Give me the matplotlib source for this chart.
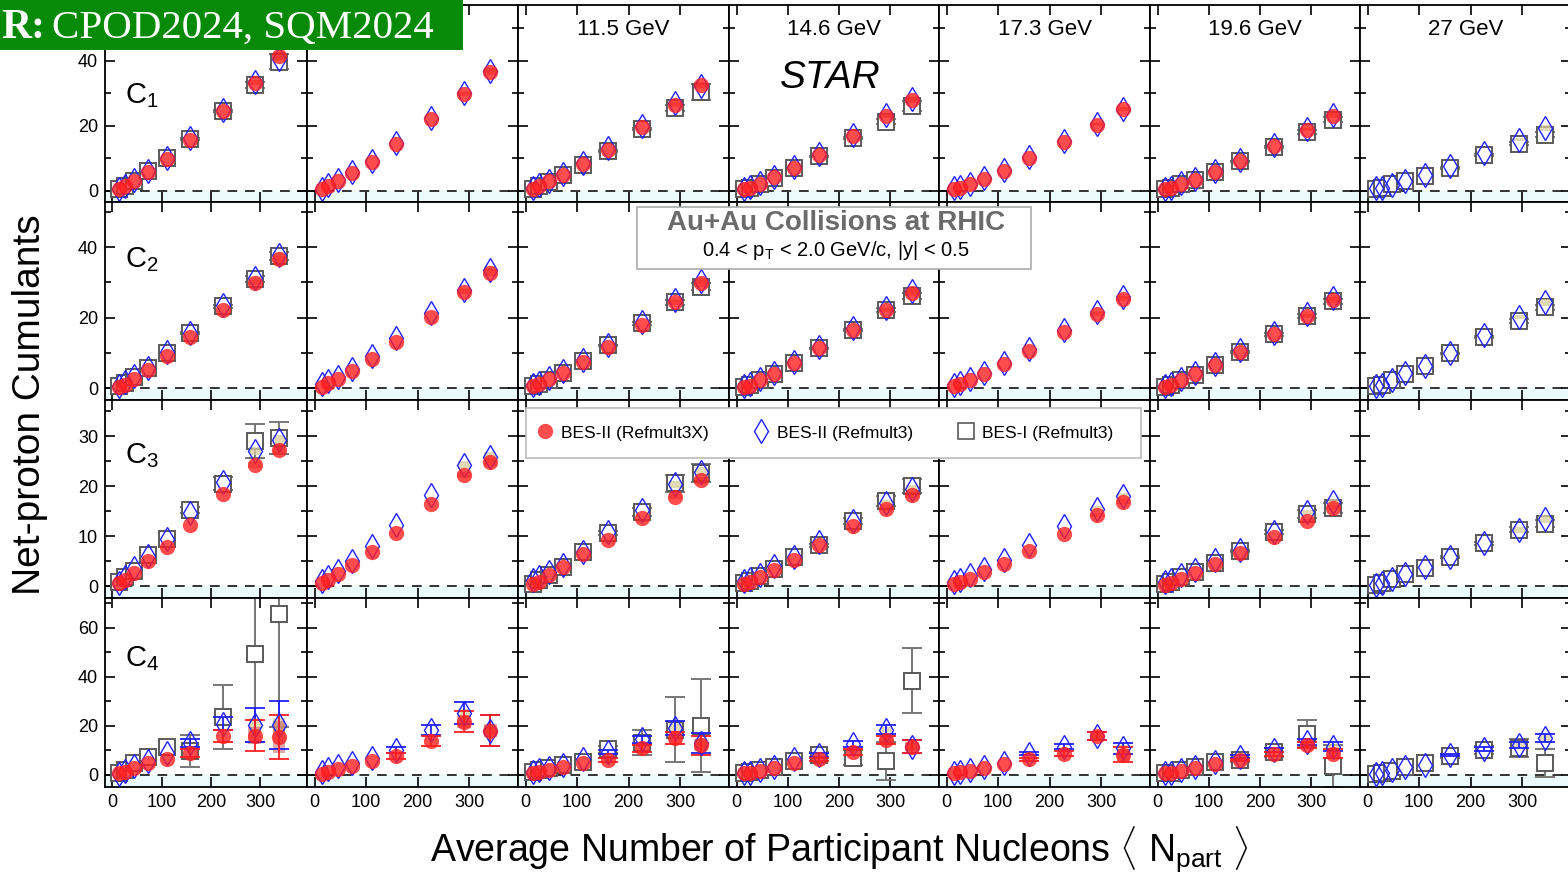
import numpy as np
import matplotlib
matplotlib.use('Agg')
import matplotlib.pyplot as plt
from matplotlib.lines import Line2D
from matplotlib.patches import Rectangle
from matplotlib.ticker import MultipleLocator

plt.rcParams['font.family'] = ['Liberation Sans', 'DejaVu Sans']
plt.rcParams['mathtext.fontset'] = 'custom'
plt.rcParams['mathtext.rm'] = 'Liberation Sans'
plt.rcParams['mathtext.it'] = 'Liberation Sans:italic'
plt.rcParams['mathtext.bf'] = 'Liberation Sans:bold'

# collision energies (columns); the first two titles sit under the banner
energies = ['7.7 GeV', '9.2 GeV', '11.5 GeV', '14.6 GeV', '17.3 GeV', '19.6 GeV', '27 GeV']

# <Npart> for 70-80% ... 0-5% centrality
npart = [
    [14, 26, 44, 72, 111, 158, 224, 289, 338],
    [14, 25, 45, 72, 111, 158, 226, 290, 341],
    [14, 26, 45, 72, 111, 159, 226, 291, 340],
    [15, 26, 45, 72, 112, 160, 227, 292, 342],
    [15, 26, 45, 72, 112, 160, 228, 292, 343],
    [15, 26, 45, 72, 112, 160, 228, 292, 343],
    [16, 27, 47, 72, 111, 160, 226, 293, 345],
]

# ---- C1 ----
c1_red = [
    [0.5, 1.3, 3.1, 5.8, 9.8, 15.7, 24.4, 33.3, 41.5],
    [0.5, 1.5, 3.1, 5.4, 8.8, 14.4, 22.1, 29.8, 36.7],
    [0.6, 1.5, 2.9, 4.9, 8.2, 12.6, 19.5, 26.5, 32.6],
    [0.4, 0.9, 2.2, 4.1, 7.0, 11.1, 16.7, 22.9, 28.0],
    [0.6, 0.9, 1.9, 3.7, 6.2, 10.1, 15.1, 20.3, 25.2],
    [0.5, 0.8, 2.2, 3.4, 5.8, 9.0, 13.8, 18.8, 23.1],
    None,
]
c1_blue = [
    [0.6, 1.4, 3.3, 6.0, 10.1, 16.1, 24.8, 33.6, 40.6],
    [0.6, 1.6, 3.2, 5.6, 9.2, 14.8, 22.4, 30.2, 37.0],
    [0.7, 1.6, 3.0, 5.1, 8.5, 13.0, 19.9, 26.9, 32.2],
    [0.5, 1.0, 2.4, 4.3, 7.3, 11.4, 17.1, 23.2, 28.3],
    [0.7, 1.0, 2.1, 3.9, 6.4, 10.4, 15.4, 20.6, 25.3],
    [0.6, 0.9, 2.3, 3.6, 6.0, 9.3, 14.0, 19.1, 23.4],
    [0.8, 0.8, 1.8, 2.9, 4.7, 7.5, 11.6, 15.7, 19.3],
]
c1_gray = [
    [0.5, 1.3, 3.1, 5.9, 10.0, 16.0, 24.5, 32.5, 39.7],
    None,
    [0.5, 1.3, 2.8, 4.9, 7.8, 12.3, 19.0, 25.5, 30.5],
    [0.4, 0.9, 2.1, 4.0, 7.0, 10.6, 16.2, 21.3, 26.0],
    None,
    [0.5, 0.8, 2.1, 3.4, 5.8, 9.0, 13.5, 18.1, 21.8],
    [0.6, 0.9, 2.0, 2.9, 4.4, 7.0, 11.1, 14.5, 17.2],
]

# ---- C2 ----
c2_red = [
    [0.3, 0.9, 2.5, 5.1, 9.1, 14.4, 22.1, 29.9, 36.5],
    [0.4, 1.5, 2.7, 4.9, 8.1, 13.1, 20.2, 27.3, 32.7],
    [0.7, 1.0, 2.5, 4.3, 7.5, 11.7, 17.9, 24.3, 29.7],
    [0.4, 0.7, 2.3, 4.0, 7.0, 11.3, 16.6, 22.1, 27.1],
    [0.6, 1.0, 2.3, 4.0, 6.7, 10.5, 16.0, 21.0, 25.4],
    [0.4, 0.9, 2.3, 4.0, 6.5, 10.3, 15.2, 20.5, 25.0],
    None,
]
c2_blue = [
    [0.6, 1.8, 3.3, 5.8, 10.1, 15.6, 23.6, 31.2, 37.7],
    [1.1, 2.0, 3.2, 5.4, 9.0, 14.2, 21.4, 27.9, 33.6],
    [0.9, 1.4, 2.9, 4.8, 8.0, 12.3, 18.6, 25.0, 30.3],
    [0.7, 1.1, 2.6, 4.4, 7.4, 11.7, 17.1, 22.6, 27.6],
    [0.9, 1.3, 2.6, 4.4, 7.1, 11.0, 16.5, 21.5, 25.9],
    [0.7, 1.2, 2.6, 4.3, 6.9, 10.7, 15.7, 21.0, 25.5],
    [0.6, 0.9, 2.3, 4.2, 6.3, 10.0, 15.0, 20.2, 24.3],
]
c2_gray = [
    [0.5, 1.3, 3.0, 5.6, 10.0, 15.6, 23.2, 31.0, 37.5],
    None,
    [0.7, 1.1, 2.4, 4.4, 7.8, 12.1, 18.4, 24.3, 28.7],
    [0.4, 0.8, 2.3, 4.0, 7.0, 11.3, 16.4, 22.1, 26.2],
    None,
    [0.4, 0.9, 2.2, 3.8, 6.5, 10.2, 15.2, 20.4, 24.6],
    [0.6, 0.9, 2.3, 4.0, 6.3, 9.8, 14.6, 19.0, 22.9],
]

# ---- C3 ----
c3_red = [
    [0.7, 1.2, 2.7, 5.0, 7.9, 12.2, 18.4, 24.2, 27.3],
    [0.7, 1.2, 2.5, 4.3, 6.9, 10.7, 16.4, 22.2, 24.9],
    [0.5, 0.9, 2.2, 3.9, 6.4, 9.2, 13.7, 17.9, 21.2],
    [0.5, 0.9, 1.9, 3.2, 5.3, 8.2, 12.0, 15.5, 18.3],
    [0.5, 0.9, 1.5, 2.9, 4.5, 7.1, 10.5, 14.2, 16.9],
    [0.3, 0.7, 1.4, 2.7, 4.4, 6.7, 9.9, 13.1, 15.7],
    None,
]
c3_blue = [
    [0.7, 1.9, 3.7, 6.0, 9.5, 14.7, 20.9, 27.0, 29.3],
    [1.0, 1.8, 3.1, 5.0, 8.0, 12.3, 18.3, 24.3, 25.9],
    [1.2, 1.9, 2.9, 4.3, 6.9, 10.9, 15.3, 20.4, 22.9],
    [1.1, 1.4, 2.3, 4.1, 5.9, 8.9, 13.1, 16.7, 19.5],
    [0.9, 1.2, 2.2, 3.5, 5.3, 8.3, 12.1, 15.5, 18.0],
    [0.9, 1.2, 2.2, 3.2, 5.2, 7.3, 10.8, 14.8, 16.8],
    [0.2, 0.7, 1.5, 2.4, 3.9, 5.9, 8.7, 11.3, 13.5],
]
c3_gray = [
    [0.9, 1.9, 3.0, 6.2, 9.5, 15.2, 20.5, 29.1, 29.7],
    None,
    [0.5, 1.2, 2.2, 3.8, 6.9, 10.7, 14.8, 20.6, 22.6],
    [0.7, 1.1, 2.1, 3.4, 5.9, 8.2, 13.1, 17.1, 20.0],
    None,
    [0.5, 0.9, 1.9, 2.9, 4.6, 7.1, 10.8, 14.5, 15.7],
    [0.3, 0.7, 1.4, 2.4, 3.7, 5.9, 8.6, 11.3, 12.5],
]

# ---- C4 ----
c4_red = [
    [0.7, 1.4, 2.7, 4.8, 6.4, 8.9, 16.0, 16.0, 15.6],
    [0.4, 1.4, 2.4, 3.8, 5.7, 7.8, 14.0, 21.8, 18.0],
    [0.7, 1.4, 2.0, 3.4, 5.0, 6.1, 10.9, 15.0, 12.2],
    [0.7, 0.9, 1.8, 2.7, 4.8, 6.4, 9.5, 14.3, 11.6],
    [0.7, 1.1, 1.8, 2.7, 4.5, 6.4, 8.6, 15.9, 8.2],
    [0.7, 0.7, 1.8, 2.7, 4.5, 6.1, 8.6, 12.2, 8.6],
    None,
]
c4_blue = [
    [0.3, 1.5, 3.6, 5.6, 9.0, 13.0, 21.0, 20.4, 20.4],
    [1.4, 2.4, 3.8, 4.8, 6.8, 10.2, 18.4, 25.2, 18.0],
    [1.4, 2.0, 2.7, 4.1, 6.4, 9.5, 14.6, 19.1, 12.9],
    [0.7, 0.9, 2.0, 3.4, 6.4, 8.2, 12.5, 18.4, 11.6],
    [0.7, 1.1, 2.0, 3.4, 4.9, 8.6, 11.6, 15.9, 10.9],
    [0.7, 0.9, 2.0, 3.1, 5.4, 7.5, 10.2, 13.6, 11.6],
    [0.4, 0.7, 2.0, 3.4, 4.1, 8.2, 10.6, 12.2, 15.0],
]
c4_gray = [
    [0.9, 2.0, 4.8, 7.5, 11.3, 9.9, 23.7, 49.3, 65.5],
    None,
    [1.4, 2.0, 2.7, 4.1, 5.4, 10.5, 13.2, 18.4, 20.1],
    [0.7, 1.4, 2.0, 3.4, 5.7, 8.2, 7.1, 5.7, 38.5],
    None,
    [0.7, 0.9, 2.0, 3.4, 5.2, 6.1, 9.2, 16.9, 3.7],
    [0.4, 0.7, 1.8, 3.4, 4.9, 7.9, 10.2, 10.9, 4.9],
]

# statistical errors of the four most central points (30-40% ... 0-5%)
c1_gray_err = [[0.3, 0.4, 1.0, 2.3], None, [0.3, 0.4, 1.0, 2.5], [0.2, 0.3, 0.8, 1.5],
               None, [0.2, 0.3, 0.5, 0.8], [0.2, 0.3, 0.5, 0.8]]
c2_gray_err = [[0.3, 0.4, 0.8, 1.2], None, [0.2, 0.4, 0.7, 1.0], [0.2, 0.3, 0.5, 0.8],
               None, [0.2, 0.3, 0.5, 0.7], [0.2, 0.3, 0.5, 0.7]]
c3_gray_err = [[0.6, 1.3, 3.4, 3.2], None, [0.4, 0.8, 1.7, 1.8], [0.3, 0.6, 1.0, 1.4],
               None, [0.2, 0.4, 0.8, 1.0], [0.2, 0.3, 0.5, 0.7]]
c4_gray_err = [[6.5, 13.1, 36.0, 46.0], None, [1.5, 5.1, 13.3, 19.0], [1.2, 3.2, 7.8, 13.1],
               None, [1.0, 2.0, 5.6, 8.5], [0.8, 1.5, 3.7, 5.9]]
c4_red_err = [[1.5, 2.5, 6.3, 9.0], [1.2, 2.0, 4.1, 6.3], [0.8, 1.5, 2.5, 3.9], [0.7, 1.2, 1.5, 2.7],
              [0.6, 1.0, 1.5, 3.1], [0.5, 0.9, 1.2, 1.8], None]
c4_blue_err = [[1.5, 2.5, 6.8, 9.9], [1.2, 2.0, 4.4, 6.3], [0.8, 1.5, 2.8, 4.1], [0.7, 1.2, 1.8, 2.5],
               [0.6, 1.0, 1.5, 2.2], [0.5, 0.9, 1.2, 1.8], [0.5, 0.8, 1.2, 1.7]]

# systematic errors (half heights) of the two most central points
c1_red_sys = [[0.8, 1.2], [0.7, 1.0], [0.7, 1.0], [0.6, 1.0], [0.5, 0.7], [0.5, 0.8], None]
c1_blue_sys = [[0.6, 0.8], [0.5, 0.8], [0.5, 0.8], [0.5, 0.8], [0.4, 0.6], [0.4, 0.6], [0.5, 0.8]]
c2_red_sys = [[0.7, 1.0], [0.7, 1.0], [0.7, 1.0], [0.6, 0.9], [0.5, 0.8], [0.5, 0.8], None]
c2_blue_sys = [[0.6, 0.9], [0.6, 0.9], [0.6, 0.9], [0.5, 0.8], [0.5, 0.7], [0.5, 0.7], [0.6, 0.9]]
c3_red_sys = [[0.6, 0.8], [0.6, 0.8], [0.5, 0.7], [0.5, 0.6], [0.4, 0.5], [0.4, 0.5], None]
c3_blue_sys = [[0.8, 1.0], [0.8, 1.0], [0.7, 0.9], [0.6, 0.8], [0.5, 0.6], [0.5, 0.6], [0.6, 0.8]]
c4_red_sys = [[3.5, 6.5], [2.5, 2.7], [2.5, 2.5], [1.2, 2.0], [1.2, 2.5], [0.8, 1.5], None]
c4_blue_sys = [[2.7, 2.7], [1.8, 1.8], [2.0, 2.0], [1.0, 1.5], [1.0, 1.5], [0.8, 1.0], [1.0, 1.2]]

order_labels = ['C$_1$', 'C$_2$', 'C$_3$', 'C$_4$']
red_all = [c1_red, c2_red, c3_red, c4_red]
blue_all = [c1_blue, c2_blue, c3_blue, c4_blue]
gray_all = [c1_gray, c2_gray, c3_gray, c4_gray]
gray_err_all = [c1_gray_err, c2_gray_err, c3_gray_err, c4_gray_err]
red_err_all = [None, None, None, c4_red_err]
blue_err_all = [None, None, None, c4_blue_err]
red_sys_all = [c1_red_sys, c2_red_sys, c3_red_sys, c4_red_sys]
blue_sys_all = [c1_blue_sys, c2_blue_sys, c3_blue_sys, c4_blue_sys]

# layout in pixels
W, H = 1568, 880
col_left = [105, 307, 518, 729, 939, 1150, 1360]
col_width = [202, 211, 211, 210, 211, 210, 211]
row_top = [5, 202, 400, 598]
row_bot = [202, 400, 598, 787]
ylims = [(-3.5, 57.2), (-3.4, 52.8), (-2.4, 37.2), (-4.9, 72.2)]
y_major = [20, 20, 10, 20]
y_minor = [10, 10, 5, 10]
label_y = [0.54, 0.71, 0.72, 0.68]

RED = '#ff1f1f'
BLUE = '#2020ff'
GRAY = '#5a5a5a'

fig = plt.figure(figsize=(W / 100, H / 100), dpi=100)

for r in range(4):
    for c in range(7):
        ax = fig.add_axes([col_left[c] / W, 1 - row_bot[r] / H,
                           col_width[c] / W, (row_bot[r] - row_top[r]) / H])
        x = np.array(npart[c], dtype=float)
        lo, hi = ylims[r]
        ax.set_xlim(-15, 395)
        ax.set_ylim(lo, hi)
        ax.axhspan(lo, 0, color='#ebfafb', lw=0, zorder=0)
        ax.axhline(0, color='#333333', lw=1.4, ls=(0, (5, 4)), zorder=1)

        gray = gray_all[r][c]
        if gray is not None:
            g = np.array(gray)
            ax.errorbar(x[5:], g[5:], yerr=gray_err_all[r][c], fmt='none', ecolor='#777777',
                        elinewidth=1.4, capsize=7, capthick=1.4, zorder=2)
            ax.plot(x, g, ls='none', marker='s', ms=12, mfc='white', mec=GRAY, mew=1.4, zorder=3)

        blue = blue_all[r][c]
        red = red_all[r][c]
        if blue is not None:
            b = np.array(blue)
            for k, s in zip([7, 8], blue_sys_all[r][c]):
                ax.add_patch(Rectangle((x[k] - 12, b[k] - s), 24, 2 * s, facecolor='#d8cf9c',
                                       alpha=0.75, lw=0, zorder=4))
        if red is not None:
            rr = np.array(red)
            for k, s in zip([7, 8], red_sys_all[r][c]):
                ax.add_patch(Rectangle((x[k] - 13, rr[k] - s), 26, 2 * s, facecolor='#c0504d',
                                       alpha=0.5, lw=0, zorder=4))
        if blue is not None:
            if blue_err_all[r] is not None:
                ax.errorbar(x[5:], b[5:], yerr=blue_err_all[r][c], fmt='none', ecolor=BLUE,
                            elinewidth=1.3, capsize=7, capthick=1.3, zorder=5)
            ax.plot(x, b, ls='none', marker='d', ms=12.5, mfc='none', mec=BLUE, mew=1.0, zorder=6)
        if red is not None:
            if red_err_all[r] is not None:
                ax.errorbar(x[5:], rr[5:], yerr=red_err_all[r][c], fmt='none', ecolor=RED,
                            elinewidth=1.3, capsize=7, capthick=1.3, zorder=5)
            ax.plot(x, rr, ls='none', marker='o', ms=11, color=RED, mec='none', alpha=0.8, zorder=7)

        ax.xaxis.set_major_locator(MultipleLocator(100))
        ax.yaxis.set_major_locator(MultipleLocator(y_major[r]))
        ax.yaxis.set_minor_locator(MultipleLocator(y_minor[r]))
        ax.tick_params(which='both', direction='in', top=True, right=True, width=1.2,
                       labelsize=13, pad=5)
        ax.tick_params(which='major', length=7)
        ax.tick_params(which='minor', length=4)
        for sp in ax.spines.values():
            sp.set_linewidth(1.3)
        if c != 0:
            ax.set_yticklabels([])
        if r != 3:
            ax.set_xticklabels([])
        # titles of the first two columns are covered by the banner in the reference
        if r == 0 and c >= 2:
            ax.text(0.5, 0.875, energies[c], transform=ax.transAxes, ha='center', va='center',
                    fontsize=16)
        if c == 0:
            ax.text(0.1, label_y[r], order_labels[r], transform=ax.transAxes, ha='left',
                    va='center', fontsize=21)
        if r == 0 and c == 3:
            ax.text(0.48, 0.63, 'STAR', transform=ax.transAxes, ha='center', va='center',
                    fontsize=28, style='italic')

# axis titles
fig.text(30 / W, 1 - 405 / H, 'Net-proton Cumulants', rotation=90, ha='center', va='center',
         fontsize=28)
fig.text(839 / W, 1 - 850 / H,
         'Average Number of Participant Nucleons $\\langle$ N$_{\\mathrm{part}}$ $\\rangle$',
         ha='center', va='center', fontsize=27)

# info box
fig.add_artist(Rectangle((637 / W, 1 - 269 / H), 394 / W, 62 / H, transform=fig.transFigure,
                         facecolor='white', edgecolor='#aaaaaa', lw=1.2, zorder=8))
fig.text(836 / W, 1 - 223 / H, 'Au+Au Collisions at RHIC', ha='center', va='center',
         fontsize=20, fontweight='bold', color='#6b6b6b', zorder=9)
fig.text(836 / W, 1 - 250 / H, '0.4 < p$_{\\mathrm{T}}$ < 2.0 GeV/c, |y| < 0.5', ha='center',
         va='center', fontsize=14.5, zorder=9)

# legend: frame drawn separately, entries placed inside it
fig.add_artist(Rectangle((526 / W, 1 - 458 / H), 615 / W, 50 / H, transform=fig.transFigure,
                         facecolor='white', edgecolor='#bbbbbb', lw=1.2, zorder=8))
handles = [
    Line2D([0], [0], ls='none', marker='o', ms=11, color=RED, mec='none', alpha=0.8),
    Line2D([0], [0], ls='none', marker='d', ms=12.5, mfc='none', mec=BLUE, mew=1.0),
    Line2D([0], [0], ls='none', marker='s', ms=12, mfc='white', mec=GRAY, mew=1.2),
]
labels = ['BES-II (Refmult3X)', 'BES-II (Refmult3)', 'BES-I (Refmult3)']
leg = fig.legend(handles, labels, loc='center left', ncol=3,
                 bbox_to_anchor=(529 / W, 1 - 433 / H), fontsize=12.5, frameon=False,
                 borderpad=0.4, borderaxespad=0, handletextpad=0.45, handlelength=1.0,
                 columnspacing=2.5)
leg.set_zorder(9)

# conference banner
fig.add_artist(Rectangle((0, 1 - 50 / H), 463 / W, 50 / H, transform=fig.transFigure,
                         facecolor='#078a07', edgecolor='none', zorder=10))
fig.text(1 / W, 1 - 38 / H, 'R:', color='white', fontsize=30, fontweight='bold', ha='left',
         va='baseline', family='Liberation Serif', zorder=11)
fig.text(52 / W, 1 - 38 / H, 'CPOD2024, SQM2024', color='white', fontsize=29.5, ha='left',
         va='baseline', family='Liberation Serif', zorder=11)

fig.savefig('out.png', dpi=100)
